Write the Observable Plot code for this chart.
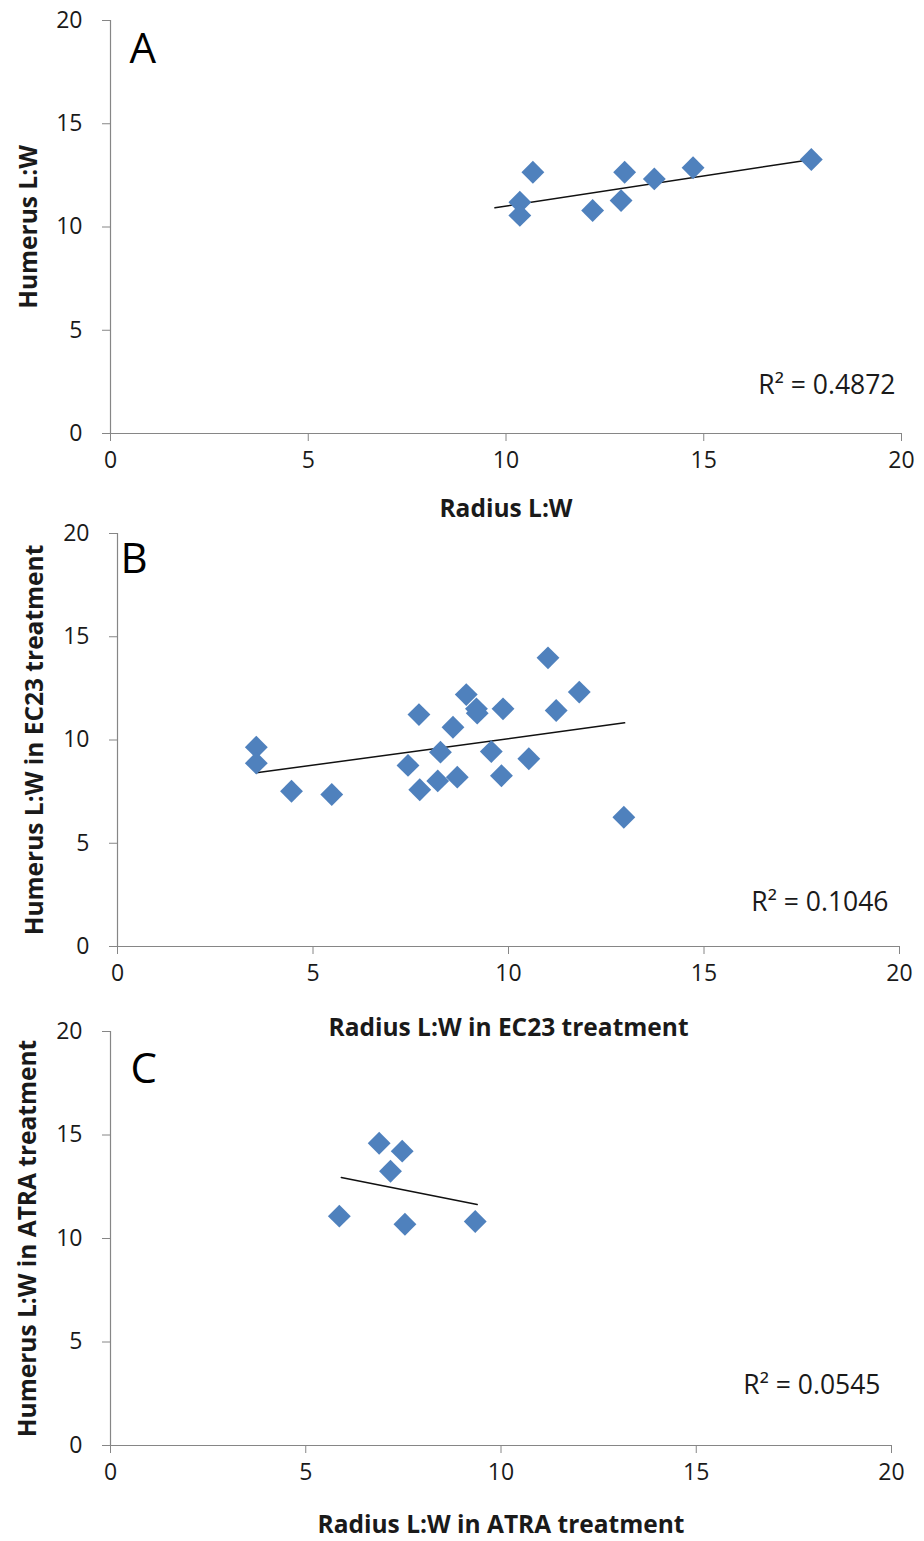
<!DOCTYPE html>
<html><head><meta charset="utf-8">
<script src="https://cdn.jsdelivr.net/npm/d3@7"></script>
<script src="https://cdn.jsdelivr.net/npm/@observablehq/plot@0.6"></script>
<style>
body{margin:0;background:#fff;}
#wrap{position:relative;width:924px;height:1541px;overflow:hidden;background:#fff;}
#wrap svg{position:absolute;left:0;}
</style></head><body><div id="wrap"></div>
<script>
// Panel A
const aRadius  = [10.68, 10.35, 10.35, 12.19, 12.91, 13.00, 13.75, 14.73, 17.72];
const aHumerus = [12.65, 11.20, 10.56, 10.80, 11.28, 12.65, 12.33, 12.87, 13.27];
const aTrendX = [9.72, 17.74];
const aTrendY = [10.93, 13.27];
// Panel B
const bRadius  = [3.55, 3.55, 4.45, 5.48, 7.43, 7.71, 7.73, 8.19, 8.26, 8.58, 8.69, 8.92, 9.18, 9.20, 9.56, 9.86, 9.82, 10.52, 11.01, 11.22, 11.81, 12.95];
const bHumerus = [9.65, 8.88, 7.52, 7.36, 8.77, 11.23, 7.59, 8.02, 9.41, 10.62, 8.20, 12.20, 11.51, 11.30, 9.44, 11.51, 8.27, 9.09, 13.98, 11.43, 12.32, 6.26];
const bTrendX = [3.55, 12.97];
const bTrendY = [8.41, 10.83];
// Panel C
const cRadius  = [5.86, 6.88, 7.17, 7.47, 7.54, 9.34];
const cHumerus = [11.08, 14.60, 13.25, 14.22, 10.69, 10.82];
const cTrendX = [5.91, 9.39];
const cTrendY = [12.95, 11.64];

const tickValues = [0, 5, 10, 15, 20];
const labelsA = {letter: "A", xLabel: "Radius L:W", yLabel: "Humerus L:W", r2: "R² = 0.4872"};
const labelsB = {letter: "B", xLabel: "Radius L:W in EC23 treatment", yLabel: "Humerus L:W in EC23 treatment", r2: "R² = 0.1046"};
const labelsC = {letter: "C", xLabel: "Radius L:W in ATRA treatment", yLabel: "Humerus L:W in ATRA treatment", r2: "R² = 0.0545"};

const AXIS = "#868686";
const INK = "#1a1a1a";
const BLUE = "#4F81BD";
const FONT = "'Open Sans', Lato, sans-serif";

function panel(xs, ys, tx, ty, labels, lay) {
  const pts = xs.map((x, i) => ({x, y: ys[i]}));
  const trend = tx.map((x, i) => ({x, y: ty[i]}));
  const svg = Plot.plot({
    width: 924,
    height: lay.H,
    marginTop: lay.mt,
    marginBottom: lay.mb,
    marginLeft: lay.ml,
    marginRight: lay.mr,
    style: {background: "transparent", overflow: "visible", fontFamily: FONT, fontSize: "23px", color: INK},
    x: {domain: [0, 20]},
    y: {domain: [0, 20]},
    marks: [
      Plot.ruleY([0], {stroke: AXIS, strokeWidth: 1.2}),
      Plot.ruleX([0], {stroke: AXIS, strokeWidth: 1.2}),
      Plot.axisX({ticks: tickValues, tickSize: 8, tickPadding: 10, stroke: AXIS, fill: INK, label: null, fontSize: 23}),
      Plot.axisY({ticks: tickValues, tickSize: 8, tickPadding: 20, stroke: AXIS, fill: INK, label: null, fontSize: 23}),
      Plot.line(trend, {x: "x", y: "y", stroke: "#111", strokeWidth: 1.5}),
      Plot.dot(pts, {x: "x", y: "y", symbol: "diamond2", r: 10.3, fill: BLUE, stroke: "none"}),
      Plot.text([labels.letter], {frameAnchor: "top-left", dx: lay.letterDx, dy: lay.letterDy, textAnchor: "start", lineAnchor: "top", fontSize: 42, fill: "#000"}),
      Plot.text([labels.r2], {frameAnchor: "bottom-right", dx: lay.r2Dx, dy: lay.r2Dy, textAnchor: "end", lineAnchor: "middle", fontSize: 26.5, fill: INK}),
      Plot.text([labels.xLabel], {frameAnchor: "bottom", dy: lay.xlDy, textAnchor: "middle", lineAnchor: "middle", fontSize: 24.5, fontWeight: "bold", fill: INK}),
      Plot.text([labels.yLabel], {frameAnchor: "left", dx: lay.ylDx, rotate: -90, textAnchor: "middle", lineAnchor: "middle", fontSize: 24.5, fontWeight: "bold", fill: INK})
    ]
  });
  svg.style.top = lay.T + "px";
  return svg;
}

const wrap = document.getElementById("wrap");
wrap.appendChild(panel(aRadius, aHumerus, aTrendX, aTrendY, labelsA,
  {T: 0, H: 540, mt: 20, mb: 107, ml: 110, mr: 23, letterDx: 19, letterDy: 13, r2Dx: -6, r2Dy: -48, xlDy: 76, ylDx: -81}));
wrap.appendChild(panel(bRadius, bHumerus, bTrendX, bTrendY, labelsB,
  {T: 520, H: 520, mt: 13, mb: 94, ml: 117, mr: 25, letterDx: 3, letterDy: 10, r2Dx: -11, r2Dy: -44, xlDy: 82, ylDx: -82}));
wrap.appendChild(panel(cRadius, cHumerus, cTrendX, cTrendY, labelsC,
  {T: 1020, H: 521, mt: 11, mb: 96, ml: 110, mr: 33, letterDx: 20, letterDy: 22, r2Dx: -11, r2Dy: -60, xlDy: 80, ylDx: -82}));
</script></body></html>
